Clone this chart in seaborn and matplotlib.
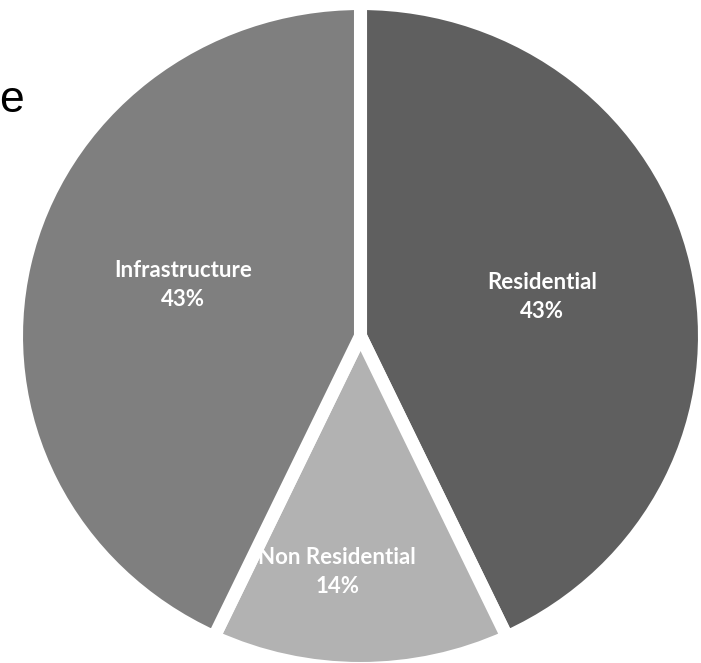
import matplotlib
matplotlib.use("Agg")
import matplotlib.pyplot as plt
import seaborn as sns
import numpy as np

categories = ["Residential", "Non Residential", "Infrastructure"]
shares = [43, 14, 43]
colors = ["#5f5f5f", "#b2b2b2", "#7f7f7f"]
title_fragment = "e"

sns.set_theme(style="white")
plt.rcParams["font.family"] = ["Lato", "DejaVu Sans"]

W, H = 701, 663
fig = plt.figure(figsize=(W / 100, H / 100), dpi=100)
ax = fig.add_axes([0, 0, 1, 1])

labels = [f"{c}\n{s}%" for c, s in zip(categories, shares)]
wedges, texts = ax.pie(
    shares,
    labels=labels,
    colors=colors,
    startangle=90,
    counterclock=False,
    radius=1.0,
    labeldistance=0.54,
    wedgeprops=dict(edgecolor="white", linewidth=9.4),
    textprops=dict(color="white", fontsize=16, fontweight="bold",
                   linespacing=1.45),
)
for t in texts:
    t.set_ha("center")
    t.set_va("center")
# nudge label positions to match reference placement
x, y = texts[1].get_position()
texts[1].set_position((x - 0.068, y - 0.17))
x, y = texts[2].get_position()
texts[2].set_position((x + 0.011, y + 0.035))

# map pie to elliptical shape as in reference
cx, cy, rx, ry = 360.5, 336.0, 344.0, 332.5
ax.set_aspect("auto")
ax.set_xlim(-cx / rx, (W - cx) / rx)
ax.set_ylim((cy - H) / ry, cy / ry)
ax.axis("off")

fig.text(24 / W, 1 - 112 / H, title_fragment, ha="right", va="baseline",
         fontsize=32, family=["Liberation Sans", "DejaVu Sans"], color="black")

fig.savefig("out.png", dpi=100)
